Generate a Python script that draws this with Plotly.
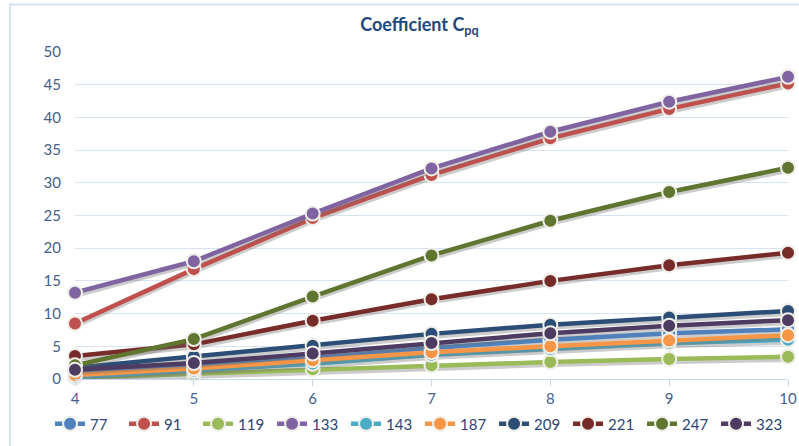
import plotly.graph_objects as go

x_vals = [4, 5, 6, 7, 8, 9, 10]
series_names = ["77", "91", "119", "133", "143", "187", "209", "221", "247", "323"]
s77 = [1.0, 2.0, 3.2, 4.75, 6.0, 7.0, 7.6]
s91 = [8.5, 16.8, 24.6, 31.2, 36.8, 41.3, 45.2]
s119 = [0.2, 0.8, 1.5, 2.1, 2.6, 3.05, 3.4]
s133 = [13.2, 18.0, 25.3, 32.2, 37.8, 42.4, 46.2]
s143 = [0.3, 1.25, 2.35, 3.7, 4.6, 5.5, 6.0]
s187 = [0.6, 1.6, 2.85, 4.1, 5.0, 5.9, 6.7]
s209 = [1.7, 3.45, 5.1, 6.9, 8.3, 9.4, 10.4]
s221 = [3.5, 5.3, 8.9, 12.2, 15.0, 17.4, 19.3]
s247 = [2.1, 6.1, 12.6, 18.9, 24.2, 28.6, 32.3]
s323 = [1.4, 2.45, 3.9, 5.5, 7.0, 8.15, 9.0]
series_values = [s77, s91, s119, s133, s143, s187, s209, s221, s247, s323]
colors = ["#4F81BD", "#C0504D", "#9BBB59", "#8064A2", "#4BACC6",
          "#F79646", "#2C4D75", "#772C2A", "#5F7530", "#4D3B62"]
y_ticks = [0, 5, 10, 15, 20, 25, 30, 35, 40, 45, 50]

shadow_offset = 0.4  # visual drop-shadow offset in data units

fig = go.Figure()
for name, vals, col in zip(series_names, series_values, colors):
    fig.add_trace(go.Scatter(
        x=x_vals, y=[v - shadow_offset for v in vals], mode="lines",
        line=dict(color="rgba(110,110,110,0.35)", width=5),
        showlegend=False, hoverinfo="skip", cliponaxis=False,
    ))
    fig.add_trace(go.Scatter(
        x=x_vals, y=vals, name=name, mode="lines+markers",
        line=dict(color=col, width=4.5),
        marker=dict(size=14, color=col, line=dict(color="#EFEEE8", width=2)),
        cliponaxis=False,
    ))

fig.update_layout(
    width=799, height=446,
    paper_bgcolor="white", plot_bgcolor="white",
    margin=dict(l=75, r=11, t=52, b=67, autoexpand=False),
    font=dict(family="Lato, Liberation Sans, sans-serif", color="#44608C", size=14),
    title=dict(text="<b>Coefficient C<sub>pq</sub></b>", x=0.525, xanchor="center",
               y=0.945, yanchor="middle",
               font=dict(size=18, color="#1F497D", family="Lato, Liberation Sans, sans-serif")),
    showlegend=True,
    legend=dict(orientation="h", x=-0.035, xanchor="left",
                y=-0.1376, yanchor="middle",
                font=dict(size=15, color="#2B4670"), itemwidth=30,
                entrywidth=29, entrywidthmode="pixels",
                traceorder="normal"),
    xaxis=dict(range=[4, 10], tickvals=x_vals, showgrid=False, zeroline=False,
               showline=True, linecolor="#C9D7EC", linewidth=1,
               ticks="outside", tickcolor="#C9D7EC", ticklen=6,
               tickfont=dict(size=15, color="#44608C")),
    yaxis=dict(range=[0, 50], tickvals=y_ticks, showgrid=True, gridcolor="#D9E4F2",
               gridwidth=1, zeroline=False, showline=False,
               ticks="", ticklabelstandoff=13,
               tickfont=dict(size=15, color="#44608C")),
    shapes=[
        dict(type="line", xref="paper", yref="paper", x0=-0.091, x1=-0.091, y0=-0.25, y1=1.15,
             line=dict(color="#D6E2F1", width=2)),
        dict(type="line", xref="paper", yref="paper", x0=-0.091, x1=1.1, y0=1.145, y1=1.145,
             line=dict(color="#D6E2F1", width=2)),
    ],
)

fig.write_html("out.html", config={"displayModeBar": False},
               post_script="document.body.style.margin='0px';")
